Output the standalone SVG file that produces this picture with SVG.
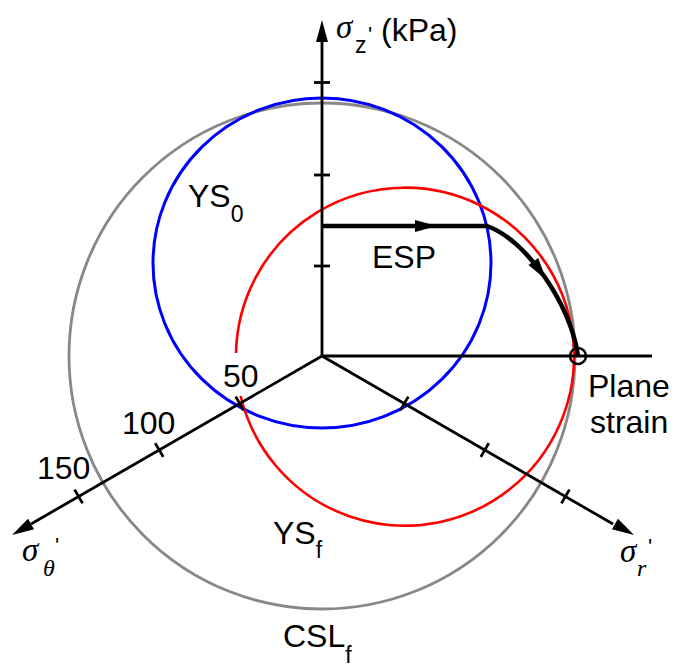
<svg xmlns="http://www.w3.org/2000/svg" xmlns:xlink="http://www.w3.org/1999/xlink" width="678" height="669" viewBox="0 0 678 669">
<style>
.ax{stroke:#000;stroke-width:2.8;fill:none;stroke-linecap:butt}
.tk{stroke:#000;stroke-width:2.8;fill:none}
.lbl{font-family:"Liberation Sans",Arial,sans-serif;font-size:32px;fill:#000}
.sub{font-family:"Liberation Sans",Arial,sans-serif;font-size:23px;fill:#000}
.sig{font-family:"Liberation Serif","Times New Roman",serif;font-style:italic;font-size:33px;fill:#000}
.sigs{font-family:"Liberation Serif","Times New Roman",serif;font-style:italic;font-size:24px;fill:#000}
.pr{font-family:"Liberation Sans",Arial,sans-serif;font-size:22px;fill:#000}
</style>
<defs>
<path id="ah" d="M0,0 L-22,-6 L-22,6 Z" fill="#000"/>
</defs>
<rect width="678" height="669" fill="#fff"/>
<g id="CSLf-circle"><circle cx="322" cy="356" r="253" fill="none" stroke="#888" stroke-width="2.8"/></g>
<g id="YS0-circle"><ellipse cx="322" cy="263" rx="169" ry="165" fill="none" stroke="#00f" stroke-width="3"/></g>
<g id="YSf-circle"><path d="M240.6,396 A169,169 0 1 0 236,353" fill="none" stroke="#f00" stroke-width="2.6"/></g>
<g id="connectors">
<line class="ax" x1="322" y1="356" x2="322" y2="40"/>
<line class="ax" x1="322" y1="356" x2="652" y2="356"/>
<line class="ax" x1="322" y1="356" x2="31" y2="524"/>
<line class="ax" x1="322" y1="356" x2="613" y2="524"/>
<use xlink:href="#ah" transform="translate(322,20) rotate(-90)"/>
<use xlink:href="#ah" transform="translate(12,535) rotate(150)"/>
<use xlink:href="#ah" transform="translate(634,535) rotate(30)"/>
<line class="tk" x1="314" y1="266" x2="330" y2="266"/>
<line class="tk" x1="314" y1="175" x2="330" y2="175"/>
<line class="tk" x1="314" y1="82.5" x2="330" y2="82.5"/>
<line class="tk" x1="235.7" y1="396.6" x2="243.7" y2="410.4"/>
<line class="tk" x1="155.2" y1="443.1" x2="163.2" y2="456.9"/>
<line class="tk" x1="74.6" y1="489.6" x2="82.6" y2="503.4"/>
<line class="tk" x1="408.3" y1="396.6" x2="400.3" y2="410.4"/>
<line class="tk" x1="488.8" y1="443.1" x2="480.8" y2="456.9"/>
<line class="tk" x1="569.4" y1="489.6" x2="561.4" y2="503.4"/>
</g>
<g id="ESP">
<path d="M322,226 L487,226 C527,240 571.5,306 578,356" fill="none" stroke="#000" stroke-width="4.5"/>
<use xlink:href="#ah" transform="translate(437,226)"/>
<use xlink:href="#ah" transform="translate(546,279.5) rotate(55)"/>
<text class="lbl" x="372" y="268">ESP</text>
</g>
<g id="plane-strain">
<circle cx="578" cy="356" r="8" fill="none" stroke="#000" stroke-width="2.5"/>
<text class="lbl" x="588" y="397">Plane</text>
<text class="lbl" x="590" y="433">strain</text>
</g>
<g id="labels">
<text class="lbl" x="188" y="207">YS<tspan class="sub" dy="15">0</tspan></text>
<text class="lbl" x="273" y="544">YS<tspan class="sub" dy="14">f</tspan></text>
<text class="lbl" x="283" y="647">CSL<tspan class="sub" dy="16">f</tspan></text>
<text class="lbl" x="223" y="387">50</text>
<text class="lbl" x="122" y="434">100</text>
<text class="lbl" x="37" y="479">150</text>
</g>
<g id="axis-labels">
<text class="sig" x="336" y="38">σ</text><text class="sub" x="355" y="53">z</text><text class="pr" x="368" y="42">'</text>
<text class="lbl" x="381" y="41">(kPa)</text>
<text class="sig" x="22" y="561">σ</text><text class="sigs" x="43" y="576">θ</text><text class="pr" x="55" y="553">'</text>
<text class="sig" x="620" y="562">σ</text><text class="sigs" x="637" y="576">r</text><text class="pr" x="648" y="554">'</text>
</g>
</svg>
